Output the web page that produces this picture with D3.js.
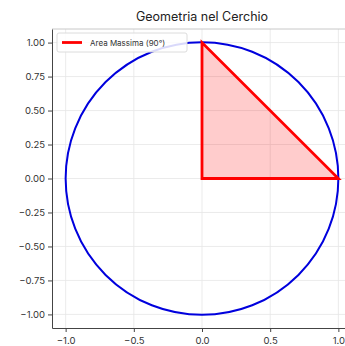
<!DOCTYPE html>
<html>
<head>
<meta charset="utf-8">
<script src="https://cdn.jsdelivr.net/npm/d3@7"></script>
<style>
  body { margin: 0; background: #fff; }
  text { font-family: "Inter", "Lato", sans-serif; }
</style>
</head>
<body>
<div id="chart"></div>
<script>
// chart data
const title = "Geometria nel Cerchio";
const circleCenter = [0, 0];
const circleRadius = [1];
const triX = [0, 0, 1];
const triY = [0, 1, 0];
const legendLabel = "Area Massima (90°)";
const xTicks = [-1.0, -0.5, 0.0, 0.5, 1.0];
const yTicks = [1.0, 0.75, 0.5, 0.25, 0.0, -0.25, -0.5, -0.75, -1.0];

const width = 345, height = 346;
let margin = ({top: 29, right: -7, bottom: 18, left: 52});

const svg = d3.select("#chart").append("svg")
    .attr("width", width)
    .attr("height", height);

let xScale = d3.scaleLinear()
    .domain([-1.1, 1.1])
    .range([margin.left, width - margin.right]);
let yScale = d3.scaleLinear()
    .domain([-1.1, 1.1])
    .range([height - margin.bottom, margin.top]);

// grid
svg.append("g").selectAll("line.gx")
    .data(xTicks).enter().append("line")
    .attr("x1", d => xScale(d)).attr("x2", d => xScale(d))
    .attr("y1", yScale(1.1)).attr("y2", yScale(-1.1))
    .attr("stroke", "#e6e6e6").attr("stroke-width", 0.8);
svg.append("g").selectAll("line.gy")
    .data(yTicks).enter().append("line")
    .attr("y1", d => yScale(d)).attr("y2", d => yScale(d))
    .attr("x1", xScale(-1.1)).attr("x2", xScale(1.1))
    .attr("stroke", "#e6e6e6").attr("stroke-width", 0.8);

// top / right frame (light)
svg.append("line")
    .attr("x1", xScale(-1.1)).attr("x2", xScale(1.1))
    .attr("y1", yScale(1.1)).attr("y2", yScale(1.1))
    .attr("stroke", "#c8c8c8").attr("stroke-width", 1);

// triangle
let pts = triX.map((x, i) => [xScale(x), yScale(triY[i])]);
svg.append("path")
    .attr("d", d3.line()(pts) + "Z")
    .attr("fill", "rgba(255,0,0,0.2)")
    .attr("stroke", "none");

// circle
svg.append("circle")
    .attr("cx", xScale(circleCenter[0]))
    .attr("cy", yScale(circleCenter[1]))
    .attr("r", xScale(circleRadius[0]) - xScale(0))
    .attr("fill", "none")
    .attr("stroke", "#0000dd")
    .attr("stroke-width", 2);

svg.append("path")
    .attr("d", d3.line()(pts) + "Z")
    .attr("fill", "none")
    .attr("stroke", "#ff0000")
    .attr("stroke-width", 2.8)
    .attr("stroke-linejoin", "miter");

// axes
const xAxis = d3.axisBottom(xScale).tickValues(xTicks).tickFormat(d3.format(".1f")).tickSize(4).tickSizeOuter(0);
const yAxis = d3.axisLeft(yScale).tickValues(yTicks).tickFormat(d3.format(".2f")).tickSize(4).tickSizeOuter(0);

let gx = svg.append("g")
    .attr("transform", "translate(0," + yScale(-1.1) + ")")
    .call(xAxis);
let gy = svg.append("g")
    .attr("transform", "translate(" + xScale(-1.1) + ",0)")
    .call(yAxis);
[gx, gy].forEach(g => {
  g.select(".domain").attr("stroke", "#444").attr("stroke-width", 1);
  g.selectAll(".tick line").attr("stroke", "#444");
  g.selectAll(".tick text").attr("fill", "#333").attr("font-size", "9.5px")
    .attr("font-family", "Inter, Lato, sans-serif")
    .text(function() { return this.textContent.replace("-", "\u2212"); });
});
gx.selectAll(".tick text").attr("dy", "0.9em");

// title
svg.append("text")
    .attr("x", xScale(0))
    .attr("y", 21)
    .attr("text-anchor", "middle")
    .attr("font-size", "12.5px")
    .attr("fill", "#222")
    .text(title);

// legend
let lg = svg.append("g").attr("transform", "translate(57,33)");
lg.append("rect")
    .attr("width", 130).attr("height", 19).attr("rx", 2)
    .attr("fill", "rgba(255,255,255,0.85)")
    .attr("stroke", "#dcdcdc");
lg.append("line")
    .attr("x1", 5).attr("x2", 25).attr("y1", 9.5).attr("y2", 9.5)
    .attr("stroke", "#ff0000").attr("stroke-width", 2.8);
lg.append("text")
    .attr("x", 33).attr("y", 12.5)
    .attr("font-size", "8px")
    .attr("fill", "#333")
    .text(legendLabel);
</script>
</body>
</html>
